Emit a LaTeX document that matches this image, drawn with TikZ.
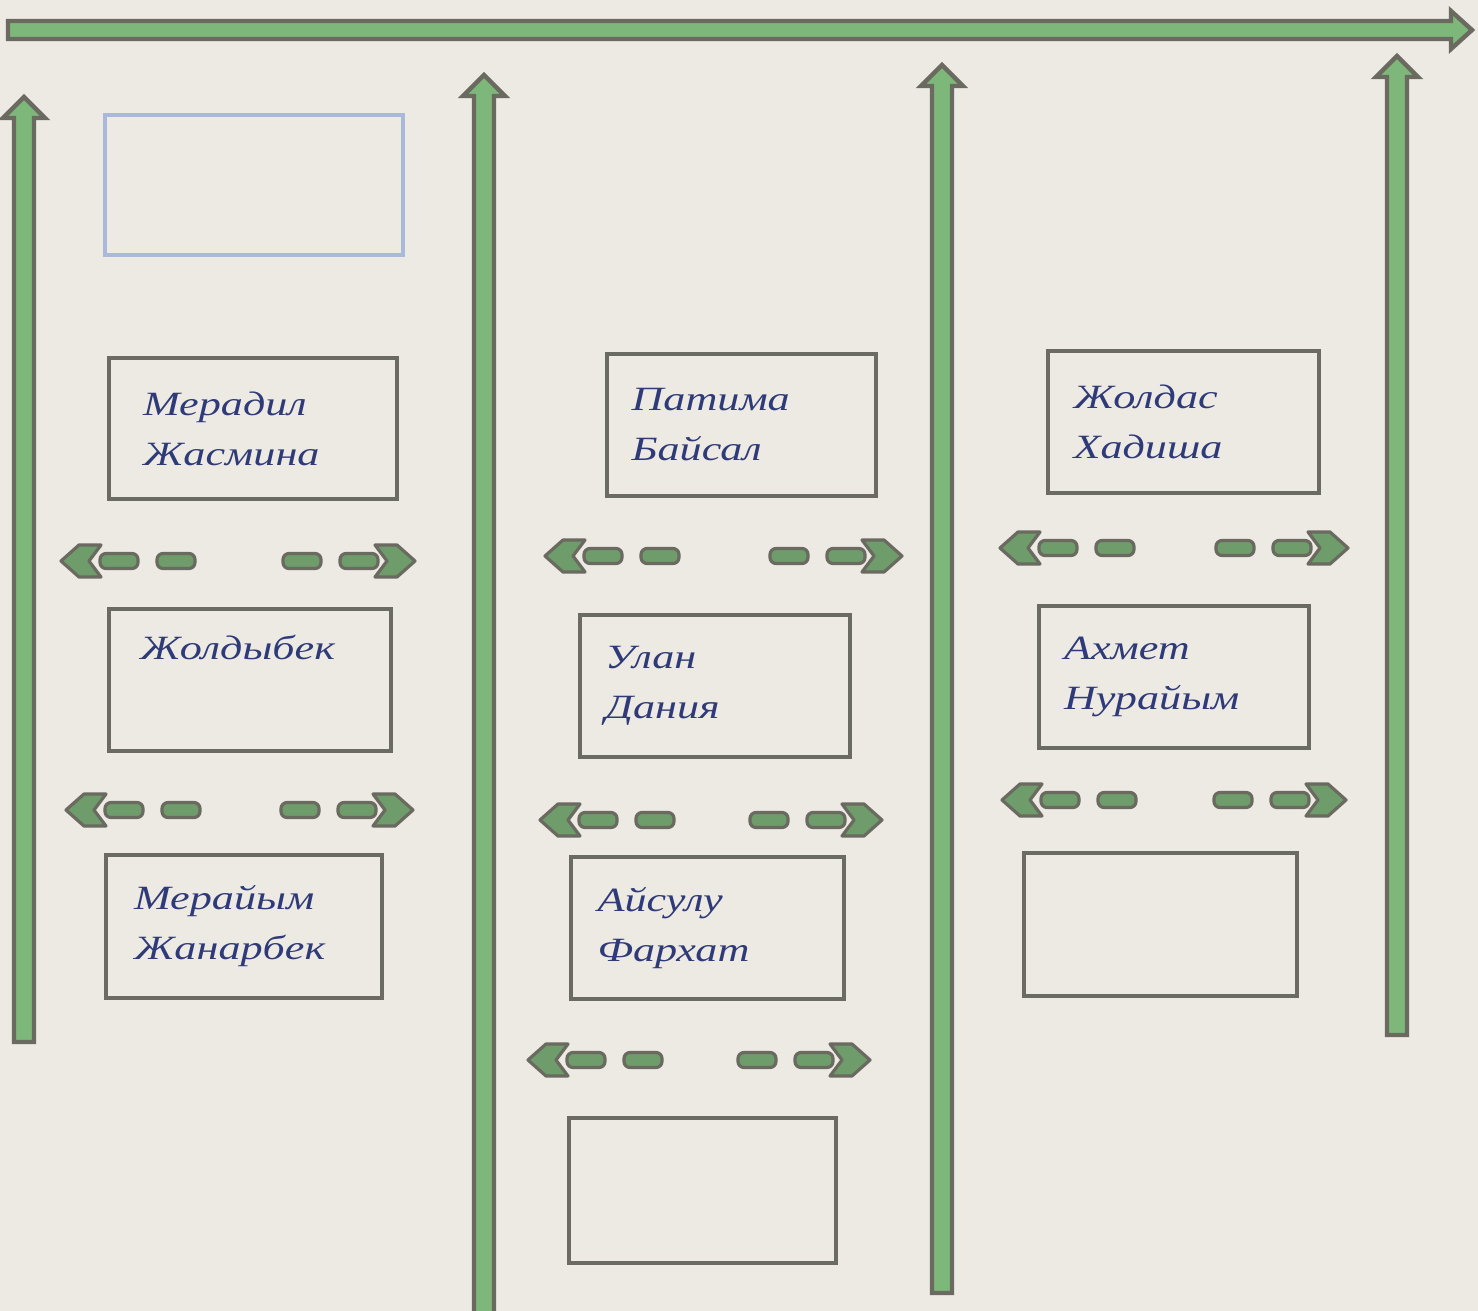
\documentclass[tikz,border=0pt]{standalone}
\usepackage{fontspec}
\newfontfamily\hand[FakeStretch=1.3]{Liberation Serif}
\usetikzlibrary{calc}
\definecolor{paper}{HTML}{EDEAE4}
\definecolor{arrgreen}{HTML}{7DB87A}
\definecolor{arrgrey}{HTML}{6A6A60}
\definecolor{dashgreen}{HTML}{6E9C6A}
\definecolor{boxgrey}{HTML}{6B6A63}
\definecolor{boxblue}{HTML}{A8B9D9}
\definecolor{ink}{HTML}{2F3A78}
\tikzset{
  bigarrow/.style={fill=arrgreen, draw=arrgrey, line width=2.2pt, line join=miter},
  dashpc/.style={fill=dashgreen, draw=arrgrey, line width=1.6pt, line join=round},
  namebox/.style={draw=boxgrey, line width=2pt, inner sep=0pt, text width=110pt, align=left,
    text=ink, font=\hand\itshape\fontsize{17}{25}\selectfont},
  bluebox/.style={draw=boxblue, line width=1.6pt, inner sep=0pt}
}
\newcommand\uparr[2]{%
  \filldraw[bigarrow] ($(#1)+(-10,0)$) -- ($(#2)+(-10,21)$) -- ($(#2)+(-21,21)$) -- (#2)
    -- ($(#2)+(21,21)$) -- ($(#2)+(10,21)$) -- ($(#1)+(10,0)$) -- cycle;}
\newcommand\dpair[4]{%
  \coordinate (#1L) at (#2,#4);
  \coordinate (#1R) at (#3,#4);
  \filldraw[dashpc] (#1L) -- ++(18,-16) -- ++(22,0) -- ++(-12,16) -- ++(12,16) -- ++(-22,0) -- cycle;
  \filldraw[dashpc, rounded corners=3] ($(#1L)+(39,-7.5)$) rectangle ($(#1L)+(77,7.5)$);
  \filldraw[dashpc, rounded corners=3] ($(#1L)+(96,-7.5)$) rectangle ($(#1L)+(134,7.5)$);
  \filldraw[dashpc, rounded corners=3] ($(#1R)+(-132,-7.5)$) rectangle ($(#1R)+(-94,7.5)$);
  \filldraw[dashpc, rounded corners=3] ($(#1R)+(-75,-7.5)$) rectangle ($(#1R)+(-37,7.5)$);
  \filldraw[dashpc] (#1R) -- ++(-18,-16) -- ++(-22,0) -- ++(12,16) -- ++(-12,16) -- ++(22,0) -- cycle;}
\begin{document}
\begin{tikzpicture}[x=0.5pt,y=-0.5pt]
\useasboundingbox (0,0) rectangle (1478,1311);
\fill[paper] (0,0) rectangle (1478,1311);

% horizontal top arrow
\coordinate (hL) at (8,30);
\coordinate (hR) at (1472,30);
\filldraw[bigarrow] ($(hL)+(0,-9)$) -- ($(hR)+(-21,-9)$) -- ($(hR)+(-21,-19)$) -- (hR)
  -- ($(hR)+(-21,19)$) -- ($(hR)+(-21,9)$) -- ($(hL)+(0,9)$) -- cycle;

% vertical arrows
\coordinate (v1b) at (24,1042);   \coordinate (v1t) at (24,97);
\coordinate (v2b) at (484,1320);  \coordinate (v2t) at (484,75);
\coordinate (v3b) at (942,1293);  \coordinate (v3t) at (942,65);
\coordinate (v4b) at (1397,1035); \coordinate (v4t) at (1397,56);
\uparr{v1b}{v1t}
\uparr{v2b}{v2t}
\uparr{v3b}{v3t}
\uparr{v4b}{v4t}

% boxes
\node[bluebox, minimum width=149pt, minimum height=70pt] (b0) at (254,185) {};

\node[namebox, minimum width=144pt, minimum height=70.5pt] (b11) at (253,428.5) {Мерадил\\Жасмина};
\node[namebox, minimum width=141pt, minimum height=71pt] (b12) at (250,680) {Жолдыбек\\\strut};
\node[namebox, minimum width=138pt, minimum height=71.5pt] (b13) at (244,926.5) {Мерайым\\Жанарбек};

\node[namebox, minimum width=134.5pt, minimum height=71pt] (b21) at (741.5,425) {Патима\\Байсал};
\node[namebox, minimum width=135pt, minimum height=71pt] (b22) at (715,686) {Улан\\Дания};
\node[namebox, minimum width=136.5pt, minimum height=71pt] (b23) at (707.5,928) {Айсулу\\Фархат};
\node[namebox, minimum width=133.5pt, minimum height=72.5pt] (b24) at (702.5,1190.5) {};

\node[namebox, minimum width=135.5pt, minimum height=71pt] (b31) at (1183.5,422) {Жолдас\\Хадиша};
\node[namebox, minimum width=135pt, minimum height=71pt] (b32) at (1174,677) {Ахмет\\Нурайым};
\node[namebox, minimum width=136.5pt, minimum height=71.5pt] (b33) at (1160.5,924.5) {};

% dashed double arrows
\dpair{d11}{61}{415}{561}
\dpair{d12}{66}{413}{810}
\dpair{d21}{545}{902}{556}
\dpair{d22}{540}{882}{820}
\dpair{d23}{528}{870}{1060}
\dpair{d31}{1000}{1348}{548}
\dpair{d32}{1002}{1346}{800}
\end{tikzpicture}
\end{document}
